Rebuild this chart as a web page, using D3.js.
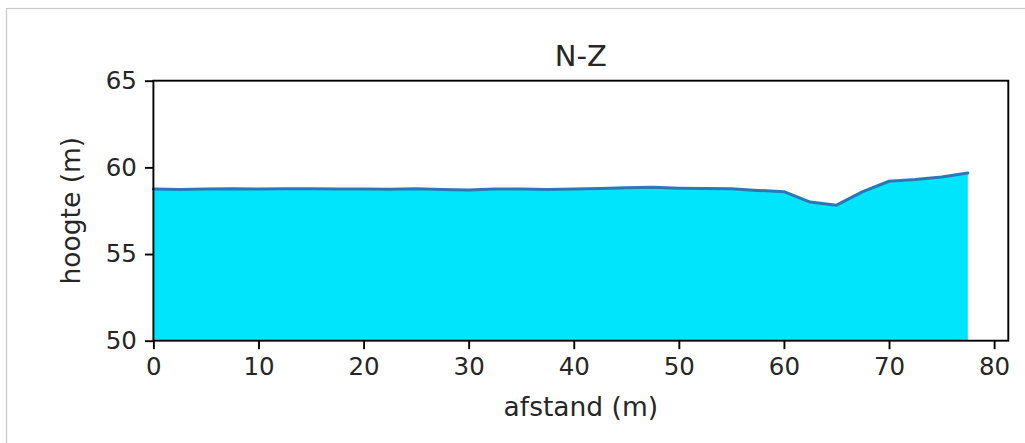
<!DOCTYPE html>
<html>
<head>
<meta charset="utf-8">
<script src="https://cdn.jsdelivr.net/npm/d3@7"></script>
<style>
  body { margin: 0; background: #fff; }
  text { font-family: "DejaVu Sans", sans-serif; fill: #262626; }
</style>
</head>
<body>
<div id="visualization"></div>
<script>
// profile N-Z: distance (m) and height (m)
var afstand = [0, 2.5, 5, 7.5, 10, 12.5, 15, 17.5, 20, 22.5, 25, 27.5, 30, 32.5, 35, 37.5,
               40, 42.5, 45, 47.5, 50, 52.5, 55, 57.5, 60, 62.5, 65, 67.5, 70, 72.5, 75, 77.5];
var hoogte = [58.75, 58.72, 58.75, 58.77, 58.75, 58.77, 58.76, 58.75, 58.75, 58.74, 58.76, 58.72,
              58.70, 58.75, 58.75, 58.73, 58.75, 58.78, 58.82, 58.85, 58.80, 58.78, 58.77, 58.67,
              58.60, 58.00, 57.82, 58.60, 59.20, 59.30, 59.45, 59.67];
var xTicks = [0, 10, 20, 30, 40, 50, 60, 70, 80];
var yTicks = [50, 55, 60, 65];

const W = 1025, H = 443;
const mLeft = 153.4, mRight = 1008.3, mTop = 80.7, mBottom = 340.7;
const tickFont = "24.5px";
const labelFont = "26.5px";

const svg = d3.select("#visualization")
    .append("svg")
    .attr("width", W)
    .attr("height", H);

// light frame round the figure
svg.append("rect")
    .attr("x", 6.5).attr("y", 8.5)
    .attr("width", W).attr("height", H)
    .attr("fill", "none")
    .attr("stroke", "#c8c8c8")
    .attr("stroke-width", 1.2);

const x = d3.scaleLinear().domain([0, 81.35]).range([mLeft, mRight]);
const y = d3.scaleLinear().domain([50, 65]).range([mBottom, mTop]);

const data = afstand.map((d, i) => [d, hoogte[i]]);

svg.append("path")
    .datum(data)
    .attr("d", d3.area()
        .x(d => x(d[0]))
        .y0(y(50))
        .y1(d => y(d[1])))
    .attr("fill", "#00e4fc");

svg.append("path")
    .datum(data)
    .attr("d", d3.line()
        .x(d => x(d[0]))
        .y(d => y(d[1])))
    .attr("fill", "none")
    .attr("stroke", "#2a78b6")
    .attr("stroke-width", 3)
    .attr("stroke-linejoin", "round")
    .attr("stroke-linecap", "round");

// axes
const xAxis = svg.append("g")
    .attr("transform", `translate(0,${mBottom})`)
    .call(d3.axisBottom(x).tickValues(xTicks).tickSize(8.5).tickPadding(8).tickSizeOuter(0));
const yAxis = svg.append("g")
    .attr("transform", `translate(${mLeft},0)`)
    .call(d3.axisLeft(y).tickValues(yTicks).tickSize(8.5).tickPadding(8).tickSizeOuter(0));

[xAxis, yAxis].forEach(g => {
    g.select(".domain").remove();
    g.selectAll("line").attr("stroke", "#000").attr("stroke-width", 1.9);
    g.selectAll("text")
        .style("font-size", tickFont)
        .style("font-family", "DejaVu Sans")
        .attr("fill", "#262626");
});

// frame of the axes
svg.append("rect")
    .attr("x", mLeft).attr("y", mTop)
    .attr("width", mRight - mLeft).attr("height", mBottom - mTop)
    .attr("fill", "none")
    .attr("stroke", "#000")
    .attr("stroke-width", 1.9);

svg.append("text")
    .attr("x", (mLeft + mRight) / 2)
    .attr("y", 66)
    .attr("text-anchor", "middle")
    .style("font-size", "29px")
    .text("N-Z");

svg.append("text")
    .attr("x", (mLeft + mRight) / 2)
    .attr("y", 416)
    .attr("text-anchor", "middle")
    .style("font-size", labelFont)
    .text("afstand (m)");

svg.append("text")
    .attr("transform", `translate(80,${(mTop + mBottom) / 2}) rotate(-90)`)
    .attr("text-anchor", "middle")
    .style("font-size", labelFont)
    .text("hoogte (m)");
</script>
</body>
</html>
